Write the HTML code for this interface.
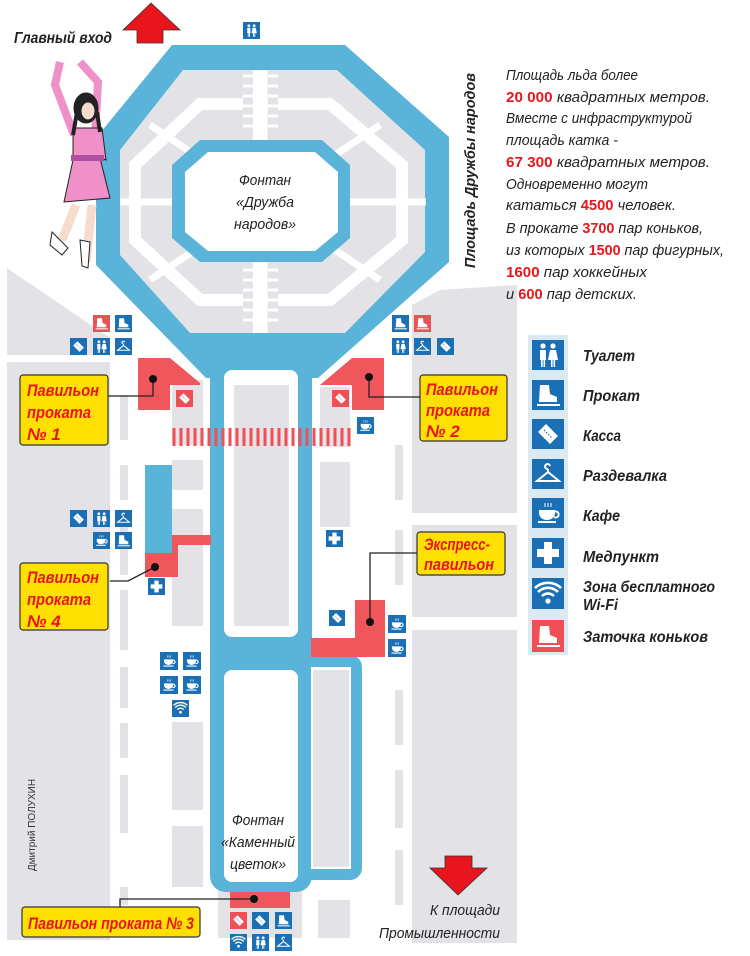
<!DOCTYPE html>
<html><head><meta charset="utf-8"><style>
html,body{margin:0;padding:0;background:#fff;}
svg{display:block;}
text{font-family:"Liberation Sans",sans-serif;}
</style></head><body>
<svg width="750" height="956" viewBox="0 0 750 956" xmlns="http://www.w3.org/2000/svg">
<defs>
<symbol id="wc" viewBox="0 0 32 32"><circle cx="11" cy="7" r="2.6" fill="#fff"/><circle cx="21" cy="7" r="2.6" fill="#fff"/><rect x="8" y="11" width="6" height="10" fill="#fff"/><rect x="9" y="20" width="1.6" height="8" fill="#fff"/><rect x="11.5" y="20" width="1.6" height="8" fill="#fff"/><path d="M18 11h6l2 10h-10z" fill="#fff"/><rect x="19" y="20" width="1.6" height="8" fill="#fff"/><rect x="21.5" y="20" width="1.6" height="8" fill="#fff"/></symbol>
<symbol id="skate" viewBox="0 0 32 32"><path d="M8 6h9l1 9 7 3v5H7z" fill="#fff"/><rect x="5" y="25" width="23" height="2" fill="#fff"/></symbol>
<symbol id="ticket" viewBox="0 0 32 32"><path d="M6 14l8-8 12 12-8 8z" fill="#fff"/><path d="M12 12l8 8" stroke="#1a6fb5" stroke-width="1.2" stroke-dasharray="1.5 1.5"/></symbol>
<symbol id="hanger" viewBox="0 0 32 32"><path d="M16 11a2.5 2.5 0 1 1 2-3M16 11v3L5 23h22L16 14" fill="none" stroke="#fff" stroke-width="2"/></symbol>
<symbol id="cafe" viewBox="0 0 32 32"><path d="M7 13h16v3a8 7 0 0 1-16 0z" fill="#fff"/><path d="M22 15a3 3 0 1 1 0 5" fill="none" stroke="#fff" stroke-width="2"/><rect x="6" y="24" width="18" height="2" fill="#fff"/><path d="M13 6v4M16 6v4M19 6v4" stroke="#fff" stroke-width="1"/></symbol>
<symbol id="plus" viewBox="0 0 32 32"><path d="M12 5h8v7h7v8h-7v7h-8v-7H5v-8h7z" fill="#fff"/></symbol>
<symbol id="wifi" viewBox="0 0 32 32"><circle cx="16" cy="23" r="2.6" fill="#fff"/><path d="M10 18a8.5 8.5 0 0 1 12 0M6 14a14 14 0 0 1 20 0M3 10a19 19 0 0 1 26 0" fill="none" stroke="#fff" stroke-width="2.6"/></symbol>
</defs>

<!-- background gray blocks -->
<g fill="#e3e3e7">
<polygon points="7,268 110,338 110,355 7,355"/>
<rect x="7" y="362" width="103" height="578"/>
<polygon points="412,305 440,290 517,285 517,513 412,513"/>
<rect x="412" y="525" width="105" height="92"/>
<rect x="412" y="630" width="105" height="313"/>
<rect x="172" y="380" width="31" height="65"/>
<rect x="172" y="460" width="31" height="30"/>
<rect x="172" y="509" width="31" height="117"/>
<rect x="172" y="722" width="31" height="88"/>
<rect x="172" y="826" width="31" height="61"/>
<rect x="320" y="387" width="30" height="60"/>
<rect x="320" y="462" width="30" height="65"/>
<rect x="318" y="900" width="32" height="38"/>
<rect x="218" y="888" width="84" height="50"/>
<rect x="120" y="395" width="8" height="45"/><rect x="120" y="465" width="8" height="35"/><rect x="120" y="525" width="8" height="50"/><rect x="120" y="590" width="8" height="60"/><rect x="120" y="667" width="8" height="41"/><rect x="120" y="723" width="8" height="35"/><rect x="120" y="775" width="8" height="58"/><rect x="120" y="887" width="8" height="18"/>
<rect x="395" y="445" width="8" height="55"/><rect x="395" y="530" width="8" height="55"/><rect x="395" y="690" width="8" height="55"/><rect x="395" y="770" width="8" height="58"/><rect x="395" y="850" width="8" height="55"/>
</g>

<!-- octagon ring -->
<polygon points="172,45 345,45 449,137 449,262 318,378 206,378 96,265 96,138" fill="#5ab3d8"/>
<polygon points="183,70 337,70 425,150 425,252 345,333 190,333 120,255 120,150" fill="#e3e3e7"/>
<!-- white roads inside -->
<polygon points="200,104 330,104 402,165 402,240 330,300 200,300 135,240 135,165" fill="none" stroke="#fff" stroke-width="12"/>
<path d="M120,202H426" stroke="#fff" stroke-width="7"/>
<path d="M150,125L225,175M380,125L305,175M150,280L225,230M380,280L305,230" stroke="#fff" stroke-width="7"/>
<path d="M260,70V333" stroke="#fff" stroke-width="15"/>
<g fill="#e3e3e7"><rect x="243" y="72" width="10" height="66"/><rect x="268" y="72" width="10" height="66"/><rect x="243" y="265" width="10" height="66"/><rect x="268" y="265" width="10" height="66"/></g>
<g stroke="#fff" stroke-width="3">
<path d="M243,76H253M243,86H253M243,96H253M243,106H253M243,116H253M243,126H253M268,76H278M268,86H278M268,96H278M268,106H278M268,116H278M268,126H278"/>
<path d="M243,270H253M243,280H253M243,290H253M243,300H253M243,310H253M243,320H253M268,270H278M268,280H278M268,290H278M268,300H278M268,310H278M268,320H278"/>
</g>
<!-- inner fountain -->
<polygon points="200,140 322,140 350,165 350,238 322,262 200,262 172,238 172,165" fill="#5ab3d8"/>
<polygon points="208,152 315,152 338,172 338,232 315,251 208,251 185,232 185,172" fill="#fff"/>

<!-- stem -->
<rect x="210" y="360" width="102" height="532" rx="16" fill="#5ab3d8"/>
<rect x="300" y="655" width="62" height="225" rx="12" fill="#5ab3d8"/>
<rect x="224" y="370" width="74" height="267" rx="8" fill="#fff"/>
<rect x="234" y="385" width="55" height="241" fill="#e3e3e7"/>
<rect x="224" y="670" width="74" height="212" rx="8" fill="#fff"/>
<rect x="311" y="667" width="40" height="202" fill="#fff"/>
<rect x="313" y="670" width="36" height="197" fill="#e3e3e7"/>

<!-- red crossing -->
<g stroke="#ef4f55" stroke-width="3">
<path d="M174,428V446M181,428V446M188,428V446M195,428V446M202,428V446M209,428V446M216,428V446M223,428V446M230,428V446M237,428V446M244,428V446M251,428V446M258,428V446M265,428V446M272,428V446M279,428V446M286,428V446M293,428V446M300,428V446M307,428V446M314,428V446M321,428V446M328,428V446M335,428V446M342,428V446M349,428V446"/>
</g>

<!-- pavilions -->
<g fill="#f0575d">
<polygon points="138,358 170,358 200,383 200,385 170,385 170,410 138,410"/>
<polygon points="352,358 384,358 384,410 352,410 352,385 320,385"/>
<polygon points="172,535 211,535 211,545 178,545 178,577 145,577 145,553 172,553"/>
<polygon points="355,600 385,600 385,657 311,657 311,638 355,638"/>
<rect x="230" y="892" width="60" height="16"/>
</g>
<rect x="145" y="465" width="27" height="88" fill="#5ab3d8"/>

<!-- connectors -->
<g stroke="#222" stroke-width="1.3" fill="none">
<path d="M153,379V396H108"/>
<path d="M369,377V397H420"/>
<path d="M155,567L128,581H110"/>
<path d="M370,622V553H417"/>
<path d="M254,899H120V908"/>
</g>
<g fill="#111"><circle cx="153" cy="379" r="4"/><circle cx="369" cy="377" r="4"/><circle cx="155" cy="567" r="4"/><circle cx="370" cy="622" r="4"/><circle cx="254" cy="899" r="4"/></g>

<!-- labels -->
<g stroke="#333" stroke-width="1.2" fill="#ffe000">
<rect x="20" y="375" width="88" height="70" rx="3"/>
<rect x="420" y="375" width="87" height="66" rx="3"/>
<rect x="20" y="563" width="88" height="67" rx="3"/>
<rect x="417" y="532" width="88" height="43" rx="3"/>
<rect x="22" y="907" width="178" height="30" rx="3"/>
</g>
<g fill="#e8161c" font-weight="bold" font-style="italic" font-size="17">
<text x="27" y="396" textLength="72" lengthAdjust="spacingAndGlyphs">Павильон</text>
<text x="27" y="418" textLength="64" lengthAdjust="spacingAndGlyphs">проката</text>
<text x="27" y="440">№ 1</text>
<text x="426" y="395" textLength="72" lengthAdjust="spacingAndGlyphs">Павильон</text>
<text x="426" y="416" textLength="64" lengthAdjust="spacingAndGlyphs">проката</text>
<text x="426" y="437">№ 2</text>
<text x="27" y="583" textLength="72" lengthAdjust="spacingAndGlyphs">Павильон</text>
<text x="27" y="605" textLength="64" lengthAdjust="spacingAndGlyphs">проката</text>
<text x="27" y="627">№ 4</text>
<text x="424" y="550" textLength="66" lengthAdjust="spacingAndGlyphs">Экспресс-</text>
<text x="424" y="570" textLength="70" lengthAdjust="spacingAndGlyphs">павильон</text>
<text x="28" y="929" textLength="166" lengthAdjust="spacingAndGlyphs">Павильон проката № 3</text>
</g>

<!-- small icons -->
<g>
<g fill="#1a6fb5">
<rect x="115" y="315" width="17" height="17"/><rect x="70" y="338" width="17" height="17"/><rect x="93" y="338" width="17" height="17"/><rect x="115" y="338" width="17" height="17"/>
<rect x="392" y="315" width="17" height="17"/><rect x="392" y="338" width="17" height="17"/><rect x="414" y="338" width="17" height="17"/><rect x="437" y="338" width="17" height="17"/>
<rect x="357" y="417" width="17" height="17"/><rect x="243" y="22" width="17" height="17"/>
<rect x="70" y="510" width="17" height="17"/><rect x="93" y="510" width="17" height="17"/><rect x="115" y="510" width="17" height="17"/><rect x="93" y="532" width="17" height="17"/><rect x="115" y="532" width="17" height="17"/>
<rect x="148" y="578" width="17" height="17"/><rect x="326" y="530" width="17" height="17"/>
<rect x="160" y="652" width="18" height="18"/><rect x="183" y="652" width="18" height="18"/><rect x="160" y="676" width="18" height="18"/><rect x="183" y="676" width="18" height="18"/><rect x="172" y="700" width="17" height="17"/>
<rect x="329" y="610" width="16" height="16"/><rect x="388" y="615" width="18" height="18"/><rect x="388" y="639" width="18" height="18"/>
<rect x="252" y="912" width="17" height="17"/><rect x="275" y="912" width="17" height="17"/><rect x="230" y="934" width="17" height="17"/><rect x="252" y="934" width="17" height="17"/><rect x="275" y="934" width="17" height="17"/>
</g>
<g fill="#ef4f55">
<rect x="93" y="315" width="17" height="17"/><rect x="414" y="315" width="17" height="17"/>
<rect x="176" y="390" width="17" height="17"/><rect x="332" y="390" width="17" height="17"/><rect x="230" y="912" width="17" height="17"/>
</g>
<use href="#skate" x="93" y="315" width="17" height="17"/><use href="#skate" x="115" y="315" width="17" height="17"/>
<use href="#ticket" x="70" y="338" width="17" height="17"/><use href="#wc" x="93" y="338" width="17" height="17"/><use href="#hanger" x="115" y="338" width="17" height="17"/>
<use href="#skate" x="392" y="315" width="17" height="17"/><use href="#skate" x="414" y="315" width="17" height="17"/>
<use href="#wc" x="392" y="338" width="17" height="17"/><use href="#hanger" x="414" y="338" width="17" height="17"/><use href="#ticket" x="437" y="338" width="17" height="17"/>
<use href="#ticket" x="176" y="390" width="17" height="17"/><use href="#ticket" x="332" y="390" width="17" height="17"/><use href="#cafe" x="357" y="417" width="17" height="17"/><use href="#wc" x="243" y="22" width="17" height="17"/>
<use href="#ticket" x="70" y="510" width="17" height="17"/><use href="#wc" x="93" y="510" width="17" height="17"/><use href="#hanger" x="115" y="510" width="17" height="17"/><use href="#cafe" x="93" y="532" width="17" height="17"/><use href="#skate" x="115" y="532" width="17" height="17"/>
<use href="#plus" x="148" y="578" width="17" height="17"/><use href="#plus" x="326" y="530" width="17" height="17"/>
<use href="#cafe" x="160" y="652" width="18" height="18"/><use href="#cafe" x="183" y="652" width="18" height="18"/><use href="#cafe" x="160" y="676" width="18" height="18"/><use href="#cafe" x="183" y="676" width="18" height="18"/><use href="#wifi" x="172" y="700" width="17" height="17"/>
<use href="#ticket" x="329" y="610" width="16" height="16"/><use href="#cafe" x="388" y="615" width="18" height="18"/><use href="#cafe" x="388" y="639" width="18" height="18"/>
<use href="#ticket" x="230" y="912" width="17" height="17"/><use href="#ticket" x="252" y="912" width="17" height="17"/><use href="#skate" x="275" y="912" width="17" height="17"/><use href="#wifi" x="230" y="934" width="17" height="17"/><use href="#wc" x="252" y="934" width="17" height="17"/><use href="#hanger" x="275" y="934" width="17" height="17"/>
</g>

<!-- legend -->
<rect x="528" y="335" width="40" height="320" fill="#dbe9f3"/>
<g fill="#1a6fb5">
<rect x="532" y="340" width="32" height="30"/><rect x="532" y="380" width="32" height="30"/><rect x="532" y="419" width="32" height="30"/><rect x="532" y="459" width="32" height="30"/><rect x="532" y="498" width="32" height="30"/><rect x="532" y="538" width="32" height="30"/><rect x="532" y="578" width="32" height="31"/>
</g>
<rect x="532" y="620" width="32" height="32" fill="#ef4f55"/>
<use href="#wc" x="532" y="339" width="32" height="32"/><use href="#skate" x="532" y="379" width="32" height="32"/><use href="#ticket" x="532" y="418" width="32" height="32"/><use href="#hanger" x="532" y="458" width="32" height="32"/><use href="#cafe" x="532" y="497" width="32" height="32"/><use href="#plus" x="532" y="537" width="32" height="32"/><use href="#wifi" x="532" y="578" width="32" height="32"/><use href="#skate" x="532" y="620" width="32" height="32"/>
<g fill="#222" font-weight="bold" font-style="italic" font-size="16">
<text x="583" y="361" textLength="52" lengthAdjust="spacingAndGlyphs">Туалет</text>
<text x="583" y="401" textLength="57" lengthAdjust="spacingAndGlyphs">Прокат</text>
<text x="583" y="441" textLength="38" lengthAdjust="spacingAndGlyphs">Касса</text>
<text x="583" y="481" textLength="84" lengthAdjust="spacingAndGlyphs">Раздевалка</text>
<text x="583" y="521" textLength="37" lengthAdjust="spacingAndGlyphs">Кафе</text>
<text x="583" y="562" textLength="76" lengthAdjust="spacingAndGlyphs">Медпункт</text>
<text x="583" y="592" textLength="132" lengthAdjust="spacingAndGlyphs">Зона бесплатного</text>
<text x="583" y="610" textLength="35" lengthAdjust="spacingAndGlyphs">Wi-Fi</text>
<text x="583" y="642" textLength="125" lengthAdjust="spacingAndGlyphs">Заточка коньков</text>
</g>

<!-- info text -->
<g fill="#222" font-style="italic" font-size="15">
<text x="506" y="80" textLength="132" lengthAdjust="spacingAndGlyphs">Площадь льда более</text>
<text x="506" y="102" textLength="204" lengthAdjust="spacingAndGlyphs"><tspan fill="#e8161c" font-weight="bold" font-style="normal">20 000</tspan> квадратных метров.</text>
<text x="506" y="123" textLength="186" lengthAdjust="spacingAndGlyphs">Вместе с инфраструктурой</text>
<text x="506" y="145" textLength="112" lengthAdjust="spacingAndGlyphs">площадь катка -</text>
<text x="506" y="167" textLength="204" lengthAdjust="spacingAndGlyphs"><tspan fill="#e8161c" font-weight="bold" font-style="normal">67 300</tspan> квадратных метров.</text>
<text x="506" y="189" textLength="142" lengthAdjust="spacingAndGlyphs">Одновременно могут</text>
<text x="506" y="210" textLength="170" lengthAdjust="spacingAndGlyphs">кататься <tspan fill="#e8161c" font-weight="bold" font-style="normal">4500</tspan> человек.</text>
<text x="506" y="233" textLength="197" lengthAdjust="spacingAndGlyphs">В прокате <tspan fill="#e8161c" font-weight="bold" font-style="normal">3700</tspan> пар коньков,</text>
<text x="506" y="255" textLength="218" lengthAdjust="spacingAndGlyphs">из которых <tspan fill="#e8161c" font-weight="bold" font-style="normal">1500</tspan> пар фигурных,</text>
<text x="506" y="277" textLength="141" lengthAdjust="spacingAndGlyphs"><tspan fill="#e8161c" font-weight="bold" font-style="normal">1600</tspan> пар хоккейных</text>
<text x="506" y="299" textLength="131" lengthAdjust="spacingAndGlyphs">и <tspan fill="#e8161c" font-weight="bold" font-style="normal">600</tspan> пар детских.</text>
</g>
<text transform="translate(475,268) rotate(-90)" font-weight="bold" font-style="italic" font-size="15" fill="#222" textLength="195" lengthAdjust="spacingAndGlyphs">Площадь Дружбы народов</text>

<!-- top entrance -->
<text x="14" y="43" font-weight="bold" font-style="italic" font-size="16" fill="#222" textLength="98" lengthAdjust="spacingAndGlyphs">Главный вход</text>
<polygon points="151,3 180,30 163,30 163,43 137,43 137,30 123,30" fill="#e8161c" stroke="#333" stroke-width="0.8"/>

<!-- bottom arrow -->
<polygon points="430,868 445,868 445,856 472,856 472,868 487,868 458,895" fill="#e8161c" stroke="#333" stroke-width="0.8"/>
<g fill="#222" font-style="italic" font-size="15">
<text x="500" y="915" text-anchor="end" textLength="70" lengthAdjust="spacingAndGlyphs">К площади</text>
<text x="500" y="938" text-anchor="end" textLength="121" lengthAdjust="spacingAndGlyphs">Промышленности</text>
</g>

<!-- fountain labels -->
<g fill="#222" font-style="italic" font-size="15" text-anchor="middle">
<text x="265" y="185" textLength="52" lengthAdjust="spacingAndGlyphs">Фонтан</text>
<text x="265" y="207" textLength="58" lengthAdjust="spacingAndGlyphs">«Дружба</text>
<text x="265" y="229" textLength="62" lengthAdjust="spacingAndGlyphs">народов»</text>
<text x="258" y="825" textLength="52" lengthAdjust="spacingAndGlyphs">Фонтан</text>
<text x="258" y="847" textLength="74" lengthAdjust="spacingAndGlyphs">«Каменный</text>
<text x="258" y="869" textLength="56" lengthAdjust="spacingAndGlyphs">цветок»</text>
</g>
<text transform="translate(35,825) rotate(-90)" text-anchor="middle" font-size="10" fill="#333">Дмитрий ПОЛУХИН</text>

<!-- skater -->
<g stroke="#222" stroke-width="1">
<path d="M60,62 L55,85 L74,135" stroke="#f090c8" stroke-width="8" fill="none"/>
<path d="M80,62 L98,82 L95,135" stroke="#f090c8" stroke-width="8" fill="none"/>
<path d="M76,205 L62,240 M92,205 L86,262" stroke="#f6dccc" stroke-width="9" fill="none"/>
<path d="M52,232 L68,248 L62,255 L50,245 Z" fill="#fff"/>
<path d="M80,240 L90,242 L88,268 L82,266 Z" fill="#fff"/>
<path d="M73,128 L102,128 L106,160 L100,158 L110,198 L64,202 L73,160 Z" fill="#f090c8"/>
<rect x="71" y="155" width="33" height="6" fill="#b04fa0" stroke="none"/>
<ellipse cx="86" cy="108" rx="12" ry="15" fill="#222"/>
<ellipse cx="88" cy="111" rx="7" ry="9" fill="#f6dccc"/>
<path d="M77,112 L73,135 M97,112 L100,132" stroke="#222" stroke-width="4"/>
</g>
</svg>
</body></html>
